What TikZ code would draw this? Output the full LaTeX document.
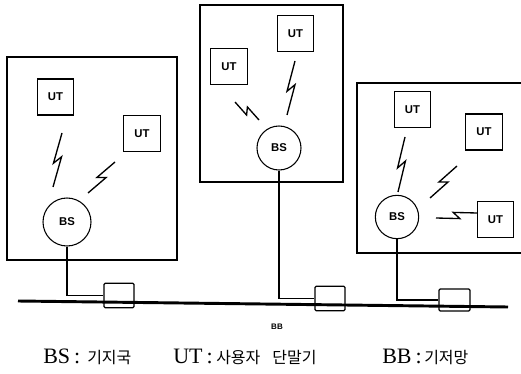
\documentclass[tikz,border=0pt]{standalone}
\usepackage{fontspec}
\setmainfont{Liberation Serif}
\newfontfamily\kr{Noto Sans CJK KR}
\newfontfamily\hv{Liberation Sans}
\usetikzlibrary{calc}
\tikzset{
  frame/.style={draw, line width=1.1pt, inner sep=0pt},
  frameline/.style={line width=1.1pt},
  utbox/.style={draw, line width=0.9pt, inner sep=0pt, minimum width=27.5pt, minimum height=27pt,
    font=\hv\bfseries\fontsize{8.5}{9}\selectfont},
  bsnode/.style={draw, circle, line width=0.8pt, inner sep=0pt,
    font=\hv\bfseries\fontsize{8.5}{9}\selectfont},
  connbox/.style={draw, line width=0.9pt, inner sep=0pt, minimum width=22.5pt, minimum height=18.5pt, rounded corners=1pt},
  link/.style={line width=0.9pt},
  bus/.style={line width=2.2pt},
  boltline/.style={line width=1pt, line join=miter},
  latin/.style={anchor=base west, inner sep=0pt, font=\fontsize{16.5}{18}\selectfont},
  hangul/.style={anchor=base west, inner sep=0pt, font=\kr\fontsize{12}{14}\selectfont},
}
\newcommand{\bolt}[2]{\draw[boltline] (#1) -- ($(#1)!0.57!(#2)!2.6pt!-90:(#2)$) -- ($(#1)!0.43!(#2)!2.6pt!90:(#2)$) -- (#2);}
\begin{document}
\begin{tikzpicture}[x=0.75pt, y=-0.75pt]
\path[use as bounding box] (0,0) rectangle (521,374);
% frames
\node[frame, minimum width=127.5pt, minimum height=152.25pt] (f1) at (92,158.5) {};
\node[frame, minimum width=107.25pt, minimum height=132.75pt] (f2) at (271.5,93.5) {};
\begin{scope}
\clip (0,0) rectangle (521,374);
\coordinate (f3tr) at (540,83);
\coordinate (f3tl) at (357,83);
\coordinate (f3bl) at (357,253);
\coordinate (f3br) at (540,253);
\draw[frameline] (f3tr) -- (f3tl) -- (f3bl) -- (f3br);
\end{scope}
% user terminals
\node[utbox] (u11) at (55.5,97) {UT};
\node[utbox] (u12) at (142,133.5) {UT};
\node[utbox] (u21) at (229,66.5) {UT};
\node[utbox] (u22) at (295.5,33.5) {UT};
\node[utbox] (u31) at (412.5,109.5) {UT};
\node[utbox] (u32) at (484,132) {UT};
\node[utbox] (u33) at (495.5,219.5) {UT};
% base stations
\node[bsnode, minimum size=36pt] (b1) at (67,222) {BS};
\node[bsnode, minimum size=33pt] (b2) at (279,148) {BS};
\node[bsnode, minimum size=32.5pt] (b3) at (397,217) {BS};
% bolts
\coordinate (l1a) at (62,133); \coordinate (l1b) at (53,187);
\coordinate (l2a) at (115,162); \coordinate (l2b) at (88,193);
\coordinate (l3a) at (235,102); \coordinate (l3b) at (259,120);
\coordinate (l4a) at (295,61); \coordinate (l4b) at (287,115);
\coordinate (l5a) at (405,137); \coordinate (l5b) at (398,192);
\coordinate (l6a) at (457,166); \coordinate (l6b) at (430,198);
\coordinate (l7a) at (477,213); \coordinate (l7b) at (436,218);
\bolt{l1a}{l1b}
\bolt{l2a}{l2b}
\bolt{l3a}{l3b}
\bolt{l4a}{l4b}
\bolt{l5a}{l5b}
\bolt{l6a}{l6b}
\bolt{l7a}{l7b}
% backbone
\coordinate (busL) at (18,301);
\coordinate (busR) at (508,307);
\draw[bus] (busL) -- (busR);
\node[connbox] (c1) at (119,295.5) {};
\node[connbox] (c2) at (330,298.5) {};
\node[connbox, minimum width=23.25pt, minimum height=16.5pt] (c3) at (454.5,300) {};
\draw[link] (b1.south) |- (c1.west);
\draw[link] (b2.south) |- (c2.west);
\draw[link] (b3.south) |- (c3.west);
\node[font=\hv\bfseries\fontsize{6}{7}\selectfont] (bb) at (277,327) {BB};
% legend
\node[latin] (lg1) at (43,363) {BS\hspace{3pt}:};
\node[hangul] (lk1) at (87,363) {기지국};
\node[latin] (lg2) at (173,363) {UT\hspace{3pt}:};
\node[hangul] (lk2) at (216,363) {사용자\hspace{9pt}단말기};
\node[latin] (lg3) at (382,363) {BB\hspace{3pt}:};
\node[hangul] (lk3) at (424,363) {기저망};
\end{tikzpicture}
\end{document}
